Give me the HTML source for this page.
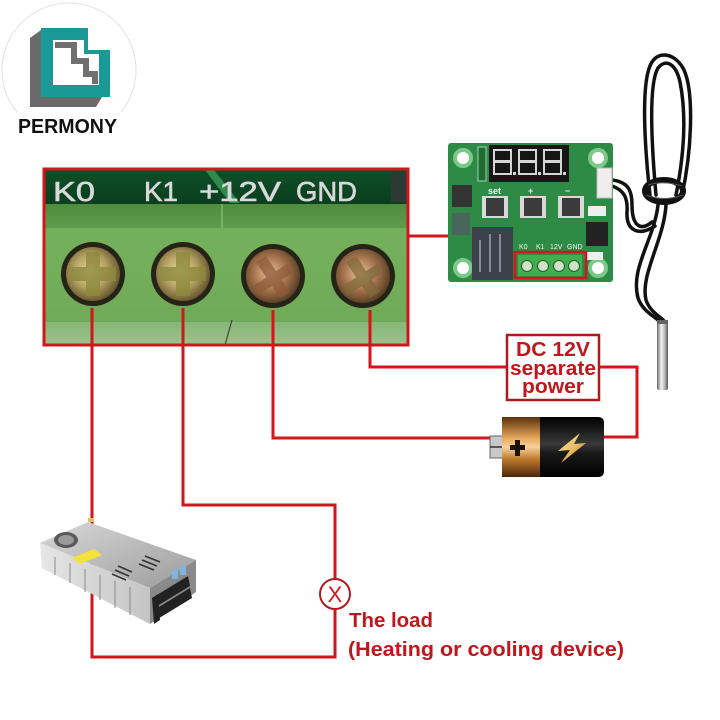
<!DOCTYPE html>
<html><head><meta charset="utf-8"><style>
html,body{margin:0;padding:0;background:#fff;}
svg{display:block;}
text{font-family:"Liberation Sans",Arial,sans-serif;}
</style></head><body>
<svg width="720" height="720" viewBox="0 0 720 720" xmlns="http://www.w3.org/2000/svg">
<defs>
  <linearGradient id="strip" x1="0" y1="0" x2="0" y2="1">
    <stop offset="0" stop-color="#0f4f28"/><stop offset="1" stop-color="#0a3f1f"/>
  </linearGradient>
  <linearGradient id="band" x1="0" y1="0" x2="0" y2="1">
    <stop offset="0" stop-color="#4f8c3e"/><stop offset="1" stop-color="#5f9c4a"/>
  </linearGradient>
  <linearGradient id="body" x1="0" y1="0" x2="0" y2="1">
    <stop offset="0" stop-color="#78b45f"/><stop offset="1" stop-color="#6fa957"/>
  </linearGradient>
  <linearGradient id="bot" x1="0" y1="0" x2="0" y2="1">
    <stop offset="0" stop-color="#86b676"/><stop offset="1" stop-color="#9cc28f"/>
  </linearGradient>
  <radialGradient id="brass" cx="0.45" cy="0.45" r="0.6">
    <stop offset="0" stop-color="#e4dca0"/><stop offset="0.5" stop-color="#b7a465"/><stop offset="1" stop-color="#5b4c25"/>
  </radialGradient>
  <radialGradient id="copper" cx="0.45" cy="0.45" r="0.6">
    <stop offset="0" stop-color="#e8c4a0"/><stop offset="0.5" stop-color="#a97650"/><stop offset="1" stop-color="#4d3820"/>
  </radialGradient>
  <linearGradient id="gold" x1="0" y1="0" x2="0" y2="1">
    <stop offset="0" stop-color="#5a300c"/><stop offset="0.35" stop-color="#e6a65a"/><stop offset="0.5" stop-color="#f6d29a"/><stop offset="0.7" stop-color="#c07a30"/><stop offset="1" stop-color="#4a2608"/>
  </linearGradient>
  <linearGradient id="blk" x1="0" y1="0" x2="0" y2="1">
    <stop offset="0" stop-color="#000"/><stop offset="0.45" stop-color="#3a3a3a"/><stop offset="0.6" stop-color="#1a1a1a"/><stop offset="1" stop-color="#000"/>
  </linearGradient>
  <linearGradient id="bolt" x1="0" y1="0" x2="1" y2="1">
    <stop offset="0" stop-color="#fff1b0"/><stop offset="1" stop-color="#d08a20"/>
  </linearGradient>
  <linearGradient id="probe" x1="0" y1="0" x2="1" y2="0">
    <stop offset="0" stop-color="#6a6a6a"/><stop offset="0.4" stop-color="#f4f4f4"/><stop offset="0.7" stop-color="#b8b8b8"/><stop offset="1" stop-color="#555"/>
  </linearGradient>
  <linearGradient id="psutop" x1="0" y1="0" x2="1" y2="1">
    <stop offset="0" stop-color="#d8d8d8"/><stop offset="1" stop-color="#9c9c9c"/>
  </linearGradient>
  <linearGradient id="psufront" x1="0" y1="0" x2="1" y2="0">
    <stop offset="0" stop-color="#e6e6e6"/><stop offset="1" stop-color="#c4c4c4"/>
  </linearGradient>
</defs>

<rect width="720" height="720" fill="#fff"/>

<!-- ===== Logo ===== -->
<circle cx="69" cy="70" r="67" fill="#fff" stroke="#e2e2e2" stroke-width="1"/>
<polygon points="30,38 41,30 41,97 102,97 96,107 30,107" fill="#6a6a6a"/>
<polygon points="41,28 88,28 88,50 110,50 110,97 41,97" fill="#1a9a96"/>
<polygon points="53,40 84,40 84,54 99,54 99,85 53,85" fill="#fff"/>
<polyline points="55,45 74,45 74,61 86,61 86,74 95,74 95,84" fill="none" stroke="#707070" stroke-width="6"/>
<rect x="10" y="112" width="118" height="26" fill="#fff"/>
<text x="18" y="133" font-size="20" font-weight="bold" fill="#111" textLength="99" lengthAdjust="spacingAndGlyphs">PERMONY</text>

<!-- ===== Red wiring ===== -->
<g stroke="#d2161b" stroke-width="3" fill="none" stroke-linecap="square">
  <polyline points="92,305 92,657 335,657 335,609"/>
  <polyline points="183,305 183,505 335,505 335,579"/>
  <polyline points="273,305 273,438 492,438"/>
  <polyline points="370,305 370,367 507,367"/>
  <polyline points="599,367 637,367 637,437 603,437"/>
  <polyline points="408,236 553,236 553,252"/>
</g>
<!-- load symbol -->
<circle cx="335" cy="594" r="15" fill="#fff" stroke="#b01a1e" stroke-width="2"/>
<text x="335" y="602" font-size="22" fill="#d2161b" text-anchor="middle">X</text>

<!-- DC box -->
<rect x="507" y="335" width="92" height="65" fill="#fff" stroke="#b01a1e" stroke-width="2.5"/>
<g font-weight="bold" fill="#c0161c" font-size="20" text-anchor="middle">
  <text x="553" y="356" textLength="74" lengthAdjust="spacingAndGlyphs">DC 12V</text>
  <text x="553" y="375" textLength="86" lengthAdjust="spacingAndGlyphs">separate</text>
  <text x="553" y="393" textLength="62" lengthAdjust="spacingAndGlyphs">power</text>
</g>

<!-- load text -->
<g font-weight="bold" fill="#c0161c" font-size="20">
  <text x="349" y="627" textLength="84" lengthAdjust="spacingAndGlyphs">The load</text>
  <text x="348" y="656" textLength="276" lengthAdjust="spacingAndGlyphs">(Heating or cooling device)</text>
</g>

<!-- ===== Battery ===== -->
<rect x="490" y="436" width="14" height="22" fill="#c8c8c8" stroke="#666" stroke-width="1"/>
<line x1="490" y1="447" x2="502" y2="447" stroke="#333" stroke-width="1.5"/>
<rect x="502" y="417" width="40" height="60" fill="url(#gold)"/>
<path d="M540,417 H598 Q604,417 604,423 V471 Q604,477 598,477 H540 Z" fill="url(#blk)"/>
<rect x="515" y="440" width="5" height="16" fill="#1a1208"/>
<rect x="510" y="445" width="15" height="5" fill="#1a1208"/>
<polygon points="580,433 558,451 570,450 561,463 586,443 574,444" fill="url(#bolt)"/>

<!-- ===== Power supply ===== -->
<polygon points="40,543 88,522 196,560 150,588" fill="url(#psutop)"/>
<polygon points="40,543 150,588 150,624 42,568" fill="url(#psufront)"/>
<polygon points="150,588 196,560 196,592 150,624" fill="#8a8a8a"/>
<g stroke="#8a8a8a" stroke-width="1">
  <line x1="55" y1="557" x2="55" y2="575"/><line x1="70" y1="563" x2="70" y2="583"/>
  <line x1="85" y1="569" x2="85" y2="592"/><line x1="100" y1="575" x2="100" y2="600"/>
  <line x1="115" y1="581" x2="115" y2="608"/><line x1="130" y1="587" x2="130" y2="615"/>
</g>
<g fill="#222">
  <polygon points="152,598 188,576 190,586 154,608"/>
  <polygon points="154,610 190,588 192,598 156,620"/>
  <polygon points="152,598 158,594 160,620 154,624"/>
</g>
<rect x="172" y="570" width="6" height="9" fill="#7fb5e0"/>
<rect x="180" y="566" width="6" height="9" fill="#7fb5e0"/>
<ellipse cx="66" cy="540" rx="12" ry="8" fill="#5a5a5a"/>
<ellipse cx="66" cy="540" rx="8" ry="5" fill="#9a9a9a"/>
<polygon points="72,558 94,549 102,555 80,564" fill="#f3e33a"/>
<g stroke="#333" stroke-width="1.6">
  <line x1="118" y1="566" x2="132" y2="572"/><line x1="115" y1="570" x2="129" y2="576"/>
  <line x1="112" y1="574" x2="126" y2="580"/><line x1="145" y1="556" x2="160" y2="562"/>
  <line x1="142" y1="560" x2="157" y2="566"/><line x1="139" y1="564" x2="154" y2="570"/>
</g>
<rect x="88" y="518" width="6" height="4" fill="#e2c060"/>

<!-- ===== Sensor probe ===== -->
<g fill="none" stroke="#111" stroke-width="3.5" stroke-linecap="round">
  <path d="M612,180 C628,182 632,190 632,205 C632,225 640,232 652,222"/>
  <path d="M612,186 C624,190 628,198 627,212 C626,232 640,236 655,226"/>
  <path d="M650,195 C645,150 640,80 652,62 C660,50 676,54 684,70 C694,92 692,150 682,195"/>
  <path d="M656,195 C652,150 648,85 658,68 C666,58 676,64 680,82 C686,112 685,150 676,195"/>
  <path d="M658,205 C654,240 630,268 638,298 C643,312 655,316 660,322"/>
  <path d="M666,205 C664,240 640,275 646,300 C650,312 660,316 665,322"/>
</g>
<ellipse cx="664" cy="191" rx="19" ry="11" fill="none" stroke="#111" stroke-width="6"/>
<path d="M648,185 Q664,180 682,186 M646,195 Q664,202 683,195" stroke="#555" stroke-width="1" fill="none"/>
<rect x="657" y="320" width="11" height="70" rx="2" fill="url(#probe)"/>
<rect x="657" y="320" width="11" height="4" fill="#666"/>

<!-- ===== Small module ===== -->
<rect x="448" y="143" width="165" height="139" rx="3" fill="#2e8b45"/>
<g fill="#fff" stroke="#7cc98a" stroke-width="4">
  <circle cx="463" cy="158" r="8"/><circle cx="598" cy="158" r="8"/>
  <circle cx="463" cy="268" r="8"/><circle cx="598" cy="268" r="8"/>
</g>
<rect x="489" y="145" width="80" height="37" fill="#161616"/>
<g fill="none" stroke="#d6d6d6" stroke-width="2">
  <path d="M494,150 h17 v11 h-17 z M494,162 h17 v12 h-17 z"/>
  <path d="M519,150 h17 v11 h-17 z M519,162 h17 v12 h-17 z"/>
  <path d="M544,150 h17 v11 h-17 z M544,162 h17 v12 h-17 z"/>
</g>
<g fill="#d6d6d6"><rect x="513" y="172" width="3" height="3"/><rect x="538" y="172" width="3" height="3"/><rect x="563" y="172" width="3" height="3"/></g>
<rect x="478" y="147" width="8" height="34" fill="#1f6b33" stroke="#9fd3a8" stroke-width="1"/>
<g font-size="9" fill="#f0f0f0" font-weight="bold">
  <text x="488" y="194">set</text><text x="528" y="194">+</text><text x="565" y="194">−</text>
</g>
<g>
  <rect x="482" y="196" width="26" height="22" fill="#d8d8d8"/><rect x="486" y="198" width="18" height="18" fill="#3b3b3b"/>
  <rect x="520" y="196" width="26" height="22" fill="#d8d8d8"/><rect x="524" y="198" width="18" height="18" fill="#3b3b3b"/>
  <rect x="558" y="196" width="26" height="22" fill="#d8d8d8"/><rect x="562" y="198" width="18" height="18" fill="#3b3b3b"/>
</g>
<rect x="452" y="185" width="20" height="22" fill="#333"/>
<rect x="452" y="213" width="18" height="22" fill="#556" opacity="0.7"/>
<rect x="472" y="227" width="41" height="53" fill="#3c414c"/>
<g stroke="#cfd3da" stroke-width="1"><line x1="480" y1="240" x2="480" y2="272"/><line x1="490" y1="234" x2="490" y2="272"/><line x1="500" y1="234" x2="500" y2="272"/></g>
<rect x="597" y="168" width="15" height="30" fill="#eee" stroke="#bbb"/>
<rect x="586" y="222" width="22" height="24" fill="#222"/>
<rect x="588" y="206" width="18" height="10" fill="#eee"/>
<rect x="585" y="252" width="18" height="8" fill="#eee"/>
<g font-size="7" fill="#f4f4f4"><text x="519" y="249">K0</text><text x="536" y="249">K1</text><text x="550" y="249">12V</text><text x="567" y="249">GND</text></g>
<rect x="518" y="255" width="64" height="21" fill="#3fb04f"/>
<g fill="#cfe3c8" stroke="#2a5a2a" stroke-width="1">
  <circle cx="527" cy="266" r="5.5"/><circle cx="543" cy="266" r="5.5"/><circle cx="559" cy="266" r="5.5"/><circle cx="574" cy="266" r="5.5"/>
</g>
<rect x="515" y="252" width="71" height="26" fill="none" stroke="#d2161b" stroke-width="2.5"/>

<!-- ===== Big terminal block ===== -->
<rect x="44" y="169" width="364" height="176" fill="url(#body)"/>
<rect x="44" y="169" width="364" height="35" fill="url(#strip)"/>
<polygon points="205,170 214,170 240,203 230,203" fill="#2f8a4c"/>
<rect x="391" y="172" width="17" height="30" fill="#2c3a33"/>
<rect x="44" y="204" width="364" height="24" fill="url(#band)"/>
<line x1="222" y1="204" x2="222" y2="228" stroke="#9ccc86" stroke-width="1"/>
<rect x="44" y="322" width="364" height="23" fill="url(#bot)"/>
<line x1="232" y1="320" x2="225" y2="345" stroke="#3a4a30" stroke-width="1.2"/>
<g font-size="28" fill="#d9d9d9" stroke="#d9d9d9" stroke-width="0.6">
  <text x="53" y="201" textLength="42" lengthAdjust="spacingAndGlyphs">K0</text>
  <text x="144" y="201" textLength="34" lengthAdjust="spacingAndGlyphs">K1</text>
  <text x="199" y="201" textLength="82" lengthAdjust="spacingAndGlyphs">+12V</text>
  <text x="296" y="201" textLength="61" lengthAdjust="spacingAndGlyphs">GND</text>
</g>
<!-- screws -->
<g>
  <circle cx="93" cy="274" r="32" fill="#262417"/>
  <circle cx="93" cy="274" r="27" fill="url(#brass)"/>
  <path d="M86,252 h14 v15 h16 v14 h-16 v15 h-14 v-15 h-16 v-14 h16 z" fill="#8c8a3c" opacity="0.8"/>
  <circle cx="183" cy="274" r="32" fill="#262417"/>
  <circle cx="183" cy="274" r="27" fill="url(#brass)"/>
  <path d="M176,252 h14 v15 h16 v14 h-16 v15 h-14 v-15 h-16 v-14 h16 z" fill="#8c8a3c" opacity="0.8"/>
  <circle cx="273" cy="276" r="32" fill="#262417"/>
  <circle cx="273" cy="276" r="27" fill="url(#copper)"/>
  <path d="M256,262 l10,-6 l24,36 l-10,6 z M253,286 l34,-22 l5,9 l-34,22 z" fill="#8f5a3a" opacity="0.75"/>
  <circle cx="363" cy="276" r="32" fill="#262417"/>
  <circle cx="363" cy="276" r="27" fill="url(#copper)"/>
  <path d="M346,262 l10,-6 l24,36 l-10,6 z M343,286 l34,-22 l5,9 l-34,22 z" fill="#7f6a3a" opacity="0.75"/>
</g>
<!-- wires inside block -->
<g stroke="#d2161b" stroke-width="3">
  <line x1="92" y1="308" x2="92" y2="345"/><line x1="183" y1="308" x2="183" y2="345"/>
  <line x1="273" y1="310" x2="273" y2="345"/><line x1="370" y1="310" x2="370" y2="345"/>
</g>
<rect x="44" y="169" width="364" height="176" fill="none" stroke="#d2161b" stroke-width="3"/>
</svg>
</body></html>
